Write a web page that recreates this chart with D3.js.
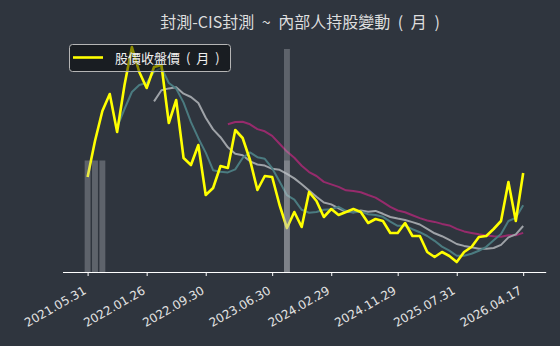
<!DOCTYPE html>
<html>
<head>
<meta charset="utf-8">
<script src="https://cdn.jsdelivr.net/npm/d3@7"></script>
<style>
  body { margin: 0; background: #2f353e; }
  svg { display: block; }
</style>
</head>
<body>
<div id="chart"></div>
<script>
// monthly categories (one point per month)
const months = [
  "2021.05","2021.06","2021.07","2021.08","2021.09","2021.10","2021.11","2021.12",
  "2022.01","2022.02","2022.03","2022.04","2022.05","2022.06","2022.07","2022.08","2022.09","2022.10","2022.11","2022.12",
  "2023.01","2023.02","2023.03","2023.04","2023.05","2023.06","2023.07","2023.08","2023.09","2023.10","2023.11","2023.12",
  "2024.01","2024.02","2024.03","2024.04","2024.05","2024.06","2024.07","2024.08","2024.09","2024.10","2024.11","2024.12",
  "2025.01","2025.02","2025.03","2025.04","2025.05","2025.06","2025.07","2025.08","2025.09","2025.10","2025.11","2025.12",
  "2026.01","2026.02","2026.03","2026.04"
];
const tickLabels = ["2021.05.31","2022.01.26","2022.09.30","2023.06.30","2024.02.29","2024.11.29","2025.07.31","2026.04.17"];

// 股價收盤價 (月)
const closePrice = [
  143,179,209,226,188,235,273,248,232,253,
  255,197,220,162,155,175,125,132,154,152,
  190,182,160,130,144,143,115,92,108,93,
  128,119,103,111,105,108,111,108,97,101,
  99,87,87,97,84,84,68,63,68,64,
  58,68,73,83,84,91,99,138,99,147
];
// moving average lines
const ma5 = [null,null,null,null,
  193,211,228,235,237,248.2,252.2,237,231.4,217.4,
  197.8,181.8,167.4,149.8,148.2,147.6,150.6,162,167.6,162.8,
  161.2,151.8,138.4,124.8,120.4,110.2,107.2,108,110.2,110.8,
  113.2,109.2,107.6,108.6,105.8,105,103.2,98.4,94.2,94.2,
  90.8,87.8,84,79.2,73.4,69.4,64.2,64.2,66.2,69.2,
  73.2,79.8,86,99,102.2,114.8
];
const ma10 = [null,null,null,null,null,null,null,null,null,
  218.6,229.8,231.6,232.7,226.3,223,217,202.2,190.6,182.8,
  172.7,166.2,164.7,158.7,155.5,154.4,151.2,150.2,146.2,141.6,
  135.7,129.5,123.2,117.5,115.6,111.7,108.2,107.8,109.4,108.3,
  109.1,106.2,103,101.4,100,97.9,95.5,91.2,86.7,83.8,
  80.1,76,74.1,72.7,71.3,71.3,72,75.1,82.6,85.7,94
];
const ma20 = [null,null,null,null,null,null,null,null,null,null,
  null,null,null,null,null,null,null,null,null,
  195.7,198,198.2,195.7,190.9,188.7,184.1,176.2,168.4,162.2,
  154.2,147.9,144,138.1,135.6,133.1,129.7,129,127.8,125,
  122.4,117.9,113.1,109.5,107.8,104.8,101.9,99.5,98.1,96.1,
  94.6,91.1,88.6,87.1,85.7,84.6,83.8,83.2,84.7,84.8,87.1
];

// 內部人持股變動 bars
const changeMonthsA = ["2021.05","2021.06","2021.07","2023.08"];
const changeValuesA = [1,1,1,1];
const changeMonthsB = ["2023.08"];
const changeValuesB = [2];

const width = 560, height = 346;

const svg = d3.select("#chart")
  .append("svg")
  .attr("width", width)
  .attr("height", height);

svg.append("rect")
  .attr("width", width)
  .attr("height", height)
  .attr("fill", "#2f353e");

const x = d3.scaleLinear().domain([-3.4, 62.05]).range([62.5, 545.7]);
const y = d3.scaleLinear().domain([48, 280]).range([272, 40]);
const yBar = d3.scaleLinear().domain([0, 2]).range([272, 49]);

const line = d3.line()
  .defined(d => d != null)
  .x((d, i) => x(i))
  .y(d => y(d));

const series = [
  { values: ma20, color: "#962b6c", w: 2 },
  { values: ma10, color: "#9fa3a8", w: 2 },
  { values: ma5, color: "#4b7b80", w: 2 },
  { values: closePrice, color: "#ffff00", w: 2.6 }
];

svg.selectAll("path.series")
  .data(series)
  .join("path")
  .attr("class", "series")
  .attr("d", d => line(d.values))
  .attr("fill", "none")
  .attr("stroke", d => d.color)
  .attr("stroke-width", d => d.w)
  .attr("stroke-linejoin", "round");

// bars (drawn semi-transparent on top)
const bw = (x(1) - x(0)) * 0.8;
function drawBars(ms, vals) {
  svg.append("g")
    .selectAll("rect")
    .data(ms.map((m, i) => ({ m, v: vals[i] })))
    .join("rect")
    .attr("x", d => x(months.indexOf(d.m)) - bw / 2)
    .attr("y", d => yBar(d.v))
    .attr("width", bw)
    .attr("height", d => yBar(0) - yBar(d.v))
    .attr("fill", "#c0c3c8")
    .attr("fill-opacity", 0.33);
}
drawBars(changeMonthsA, changeValuesA);
drawBars(changeMonthsB, changeValuesB);

// x axis
const xAxis = d3.axisBottom(x)
  .tickValues(tickLabels.map(t => months.indexOf(t.slice(0, 7))))
  .tickFormat((d, i) => tickLabels[i])
  .tickSize(4)
  .tickSizeOuter(0);

const gx = svg.append("g")
  .attr("transform", "translate(0,272)")
  .call(xAxis);
gx.select(".domain").attr("stroke", "#ffffff").attr("stroke-width", 1.2);
gx.selectAll(".tick line").attr("stroke", "#ffffff");
gx.selectAll(".tick text")
  .attr("fill", "#e2e2e2")
  .attr("font-size", 12)
  .attr("font-family", "DejaVu Sans")
  .attr("text-anchor", "end")
  .attr("x", 0)
  .attr("y", 0)
  .attr("dy", 0)
  .attr("transform", "translate(-1,21) rotate(-30)");

// title
svg.append("text")
  .attr("x", 300)
  .attr("y", 28)
  .attr("text-anchor", "middle")
  .attr("font-family", "Noto Sans CJK TC")
  .attr("font-size", 16)
  .attr("word-spacing", 4)
  .attr("fill", "#dedede")
  .text("封測-CIS封測 ~ 內部人持股變動 ( 月 )");

// legend
const lg = svg.append("g");
lg.append("rect")
  .attr("x", 69.5).attr("y", 44.5)
  .attr("width", 161).attr("height", 27)
  .attr("rx", 3)
  .attr("fill", "#000000").attr("fill-opacity", 0.45)
  .attr("stroke", "#b5b5b5").attr("stroke-width", 1);
lg.append("line")
  .attr("x1", 73).attr("x2", 103)
  .attr("y1", 57.5).attr("y2", 57.5)
  .attr("stroke", "#ffff00").attr("stroke-width", 2.6);
lg.append("text")
  .attr("x", 115).attr("y", 63)
  .attr("font-family", "Noto Sans CJK TC")
  .attr("font-size", 13)
  .attr("word-spacing", 3)
  .attr("fill", "#f0f0f0")
  .text("股價收盤價 ( 月 )");
</script>
</body>
</html>
